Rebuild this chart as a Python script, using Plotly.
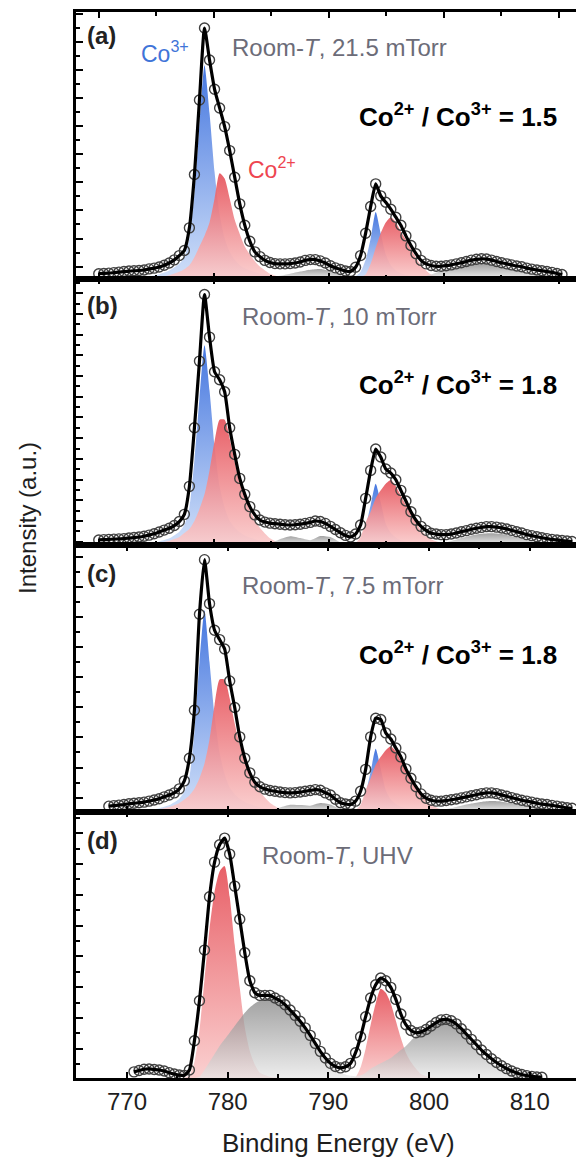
import plotly.graph_objects as go

# ---------------- data (intensity in a.u., 0-100 per panel) ----------------
energy = [767.2, 767.7, 768.2, 768.7, 769.2, 769.7, 770.2, 770.7, 771.2, 771.7,
          772.2, 772.7, 773.2, 773.7, 774.2, 774.7, 775.2, 775.7, 776.2, 776.7,
          777.2, 777.7, 778.2, 778.7, 779.2, 779.7, 780.2, 780.7, 781.2, 781.7,
          782.2, 782.7, 783.2, 783.7, 784.2, 784.7, 785.2, 785.7, 786.2, 786.7,
          787.2, 787.7, 788.2, 788.7, 789.2, 789.7, 790.2, 790.7, 791.2, 791.7,
          792.2, 792.7, 793.2, 793.7, 794.2, 794.7, 795.2, 795.7, 796.2, 796.7,
          797.2, 797.7, 798.2, 798.7, 799.2, 799.7, 800.2, 800.7, 801.2, 801.7,
          802.2, 802.7, 803.2, 803.7, 804.2, 804.7, 805.2, 805.7, 806.2, 806.7,
          807.2, 807.7, 808.2, 808.7, 809.2, 809.7, 810.2, 810.7, 811.2, 811.7,
          812.2, 812.7, 813.2, 813.7, 814.2]

data_a = [1.8, 1.9, 2.0, 2.2, 2.4, 2.6, 2.8, 2.9, 3.0, 3.2,
          3.6, 3.9, 4.3, 5.0, 5.8, 7.0, 8.6, 10.5, 19, 39,
          67, 94, 82, 71, 64, 57, 48, 38, 28, 20,
          14, 10, 8.2, 6.8, 6.0, 5.6, 5.5, 5.5, 5.6, 5.8,
          6.2, 6.8, 7.1, 7.1, 6.6, 5.8, 4.8, 4.0, 3.4, 2.8,
          2.6, 4.2, 8.6, 17, 27, 35.5, 31, 28.6, 26, 23,
          20, 16, 12.4, 9.3, 6.8, 5.5, 4.9, 4.6, 4.6, 4.8,
          5.1, 5.5, 5.9, 6.4, 6.9, 7.2, 7.4, 7.3, 6.9, 6.4,
          5.9, 5.5, 5.1, 4.7, 4.4, 3.9, 3.5, 3.2, 2.9, 2.6,
          2.3, 1.9, 1.5, None, None]

data_b = [1.9, 2.0, 2.1, 2.2, 2.3, 2.4, 2.6, 2.8, 3.0, 3.3,
          3.7, 4.2, 4.9, 5.6, 6.3, 7.3, 8.8, 11.5, 22, 44,
          69, 94, 78, 65, 62, 57.5, 44, 34, 25, 19,
          14.4, 11.3, 9.4, 8.6, 8.2, 8.0, 7.8, 7.6, 7.5, 7.6,
          7.8, 8.1, 8.5, 9.0, 8.8, 8.1, 7.0, 5.8, 4.6, 3.6,
          3.0, 4.1, 7.5, 17.5, 28, 36, 33, 28.5, 27, 24.5,
          20.5, 16.5, 12.5, 9.3, 7.0, 5.5, 4.4, 4.1, 3.9, 3.9,
          4.1, 4.5, 5.0, 5.4, 5.9, 6.3, 6.6, 6.9, 6.9, 6.7,
          6.4, 6.0, 5.5, 5.0, 4.5, 3.9, 3.5, 3.1, 2.7, 2.4,
          2.1, 1.9, 1.7, 1.5, 1.3]

data_c = [None, None, 2.0, 2.2, 2.4, 2.6, 2.9, 3.1, 3.3, 3.5,
          3.9, 4.3, 4.8, 5.5, 6.2, 7.0, 8.5, 11.5, 20, 38,
          74, 94.5, 78, 68, 64.5, 61, 49, 39, 28, 20,
          14.5, 11, 9.3, 8.4, 7.9, 7.6, 7.3, 7.1, 7.0, 7.1,
          7.3, 7.6, 7.9, 8.2, 8.0, 7.0, 6.2, 4.6, 3.3, 2.8,
          2.6, 3.9, 7.6, 15.8, 28, 35, 34.5, 29.5, 27.2, 23.8,
          20.5, 16, 12.5, 9.3, 6.6, 5.0, 4.2, 3.9, 3.9, 4.1,
          4.4, 4.7, 5.1, 5.5, 5.9, 6.3, 6.7, 7.0, 7.0, 6.7,
          6.2, 5.7, 5.2, 4.7, 4.2, 3.9, 3.5, 3.1, 2.8, 2.6,
          2.3, 2.0, 1.7, 1.4, 1.2]

data_d = [None, None, None, None, None, None, None, 2.3, 2.8, 3.3,
          3.4, 3.2, 3.0, 2.6, 2.0, 1.5, 1.1, 1.0, 3.0, 14,
          29, 48, 68, 81, 87.5, 90, 84, 72, 59.6, 47,
          36.5, 32, 31, 31, 31, 30, 29, 27.5, 25.5, 23.5,
          21.3, 18.8, 16, 13, 10, 7.5, 5.5, 4.3, 3.8, 4.2,
          5.5, 9.5, 15.5, 23, 30, 35, 37.5, 36.5, 34, 29.5,
          24, 20, 17.8, 17, 17.3, 18.2, 19.5, 20.8, 21.8, 22,
          21.5, 20.3, 18.5, 16.5, 14.5, 12.5, 10.5, 8.8, 7.2, 5.8,
          4.6, 3.5, 2.6, 1.9, 1.3, 0.9, 0.6, 0.4, 0.3, None,
          None, None, None, None, None]

# fitted components (Co3+, Co2+, satellites)
comp_energy = [770.2, 771.2, 772.2, 773.2, 774.2, 775.2,
               775.7, 776.2, 776.7, 777.2, 777.7, 778.2, 778.7, 779.2, 779.7, 780.2,
               780.7, 781.2, 781.7, 782.2, 782.7,
               783.2, 784.2, 785.2, 786.2, 787.2, 788.2, 789.2, 790.2, 791.2, 792.2,
               792.7, 793.2, 793.7, 794.2, 794.7, 795.2, 795.7, 796.2, 796.7, 797.2,
               797.7, 798.2,
               799.2, 800.2, 801.2, 802.2, 803.2, 804.2, 805.2, 806.2, 807.2, 808.2,
               809.2, 810.2, 811.2, 812.2, 813.2]

co3_a = [0, 0.3, 0.8, 1.6, 3.0, 5.5,
         8, 15, 32, 58, 80, 62, 40, 24, 15, 10, 7, 5, 3.8, 3, 2.4,
         1.8, 1, 0.5, 0, 0, 0, 0, 0, 0, 0,
         0.8, 2.5, 7, 15, 25, 17, 9, 5, 3, 2, 1.3, 0.9,
         0.4, 0, 0, 0, 0, 0, 0, 0, 0, 0, 0, 0, 0, 0, 0]
co2_a = [0, 0.1, 0.3, 0.6, 1.2, 2.5,
         3.5, 5, 8, 12, 16, 21, 30, 39.5, 37.5, 30, 22, 16.7, 12, 9, 6.5,
         4.5, 1.8, 0.6, 0.2, 0, 0, 0, 0, 0, 0,
         0.2, 0.5, 1.5, 5.5, 11.5, 17, 21, 23, 21, 17.5, 14.5, 11,
         5, 1.5, 0.5, 0, 0, 0, 0, 0, 0, 0, 0, 0, 0, 0, 0]
sat_a = [0, 0, 0, 0, 0, 0,
         0, 0, 0, 0, 0, 0, 0, 0, 0, 0, 0, 0, 0, 0, 0,
         0, 0.3, 1.0, 1.8, 2.6, 3.3, 3.6, 2.8, 1.2, 0.4,
         0.2, 0, 0, 0, 0, 0, 0, 0, 0, 0, 0, 0,
         0.5, 1.5, 2.8, 4.0, 4.9, 5.4, 5.5, 5.2, 4.5, 3.6, 2.7, 1.9, 1.2, 0.6, 0.2]

co3_b = [0, 0.2, 0.6, 1.3, 2.5, 5,
         7.5, 14, 32, 55, 75, 58, 37, 22, 14, 9, 6.5, 4.8, 3.6, 2.8, 2.2,
         1.6, 0.9, 0.4, 0, 0, 0, 0, 0, 0, 0,
         0.5, 2, 7, 15, 23, 16, 8, 4.5, 2.8, 1.8, 1.2, 0.8,
         0.3, 0, 0, 0, 0, 0, 0, 0, 0, 0, 0, 0, 0, 0, 0]
co2_b = [0, 0.2, 0.4, 0.8, 1.6, 3,
         4.5, 6, 9, 13.5, 19, 28, 39, 47, 47, 40, 31, 23, 17.5, 13, 9.5,
         6.5, 2.5, 0.6, 0.1, 0, 0, 0, 0, 0, 0,
         0.7, 3, 8.5, 12.5, 17.5, 20.5, 23, 24.4, 22, 18.5, 15, 11.5,
         5.5, 2.2, 0.9, 0.3, 0, 0, 0, 0, 0, 0, 0, 0, 0, 0, 0]
sat_b = [0, 0, 0, 0, 0, 0,
         0, 0, 0, 0, 0, 0, 0, 0, 0, 0, 0, 0, 0, 0, 0,
         0, 0.6, 2.2, 3.3, 2.6, 1.8, 3.4, 3.0, 1.0, 0.2,
         0, 0, 0, 0, 0, 0, 0, 0, 0, 0, 0, 0,
         0, 0, 0.5, 1.5, 2.6, 3.6, 4.2, 4.4, 4.1, 3.3, 2.3, 1.3, 0.6, 0.2, 0]

co3_c = [0, 0.2, 0.5, 1.2, 2.4, 4.8,
         7.5, 13, 30, 56, 75.5, 56, 36, 22, 14, 9, 6.5, 4.8, 3.6, 2.8, 2.2,
         1.6, 0.9, 0.4, 0, 0, 0, 0, 0, 0, 0,
         0.5, 2, 7, 15, 23.5, 16, 8, 4.5, 2.8, 1.8, 1.2, 0.8,
         0.3, 0, 0, 0, 0, 0, 0, 0, 0, 0, 0, 0, 0, 0, 0]
co2_c = [0, 0.2, 0.4, 0.9, 1.7, 3.2,
         4.5, 6, 8.5, 12.5, 18, 27, 40, 49.5, 49.5, 42.5, 33, 25, 19, 14.5, 11,
         7.5, 3.3, 1.0, 0.2, 0, 0, 0, 0, 0, 0,
         0.5, 2.5, 8, 12.5, 17.5, 20.5, 23, 24.5, 22.5, 19, 15.5, 12,
         6, 2.5, 0.8, 0.2, 0, 0, 0, 0, 0, 0, 0, 0, 0, 0, 0]
sat_c = [0, 0, 0, 0, 0, 0,
         0, 0, 0, 0, 0, 0, 0, 0, 0, 0, 0, 0, 0, 0, 0,
         0, 0.5, 1.5, 2.5, 2.4, 2.2, 3.2, 2.6, 0.9, 0.2,
         0, 0, 0, 0, 0, 0, 0, 0, 0, 0, 0, 0,
         0, 0, 0.5, 1.3, 2.2, 3.0, 3.6, 3.9, 3.7, 3.1, 2.3, 1.5, 0.8, 0.3, 0]

co2_d = [0, 0, 0, 0, 0, 0,
         0, 1, 6, 18, 37, 56, 70, 77.5, 79.5, 68, 50, 34, 19, 10, 5,
         2, 0.5, 0, 0, 0, 0, 0, 0, 0, 0,
         0.3, 4, 11, 20, 28, 33.5, 32, 28, 21.5, 15, 9.5, 6,
         1.5, 0.2, 0, 0, 0, 0, 0, 0, 0, 0, 0, 0, 0, 0, 0]
sat_d = [0, 0, 0, 0, 0, 0,
         0, 0, 0, 0.5, 3, 6, 9, 12, 14.5, 17, 19.5, 22, 24.5, 26.5, 28,
         29, 30, 28, 25, 21, 15, 9, 4.5, 2, 0.8,
         0.7, 1, 2, 3.5, 4.5, 5.5, 6.5, 7.5, 9, 10.5, 12, 14,
         17.5, 20, 21.5, 21, 18, 13, 8.5, 5.5, 3.5, 2, 1, 0.5, 0.2, 0, 0]

panel_labels = ["(a)", "(b)", "(c)", "(d)"]
conditions = ["Room-<i>T</i>, 21.5 mTorr", "Room-<i>T</i>, 10 mTorr",
              "Room-<i>T</i>, 7.5 mTorr", "Room-<i>T</i>, UHV"]
ratios = ["1.5", "1.8", "1.8", None]
x_tick_labels = [770, 780, 790, 800, 810]

# ---------------- styling ----------------
FONT = "Liberation Sans, Arial, Helvetica, sans-serif"
BLUE = [[0, "rgba(206,222,248,0.95)"], [1, "rgba(60,112,222,0.95)"]]
RED = [[0, "rgba(250,204,204,0.92)"], [1, "rgba(230,82,90,0.92)"]]
GRAY = [[0, "rgba(230,230,230,0.72)"], [1, "rgba(125,125,125,0.72)"]]

panels = [
    dict(data=data_a, co3=co3_a, co2=co2_a, sat=sat_a),
    dict(data=data_b, co3=co3_b, co2=co2_b, sat=sat_b),
    dict(data=data_c, co3=co3_c, co2=co2_c, sat=sat_c),
    dict(data=data_d, co3=None, co2=co2_d, sat=sat_d),
]
split = comp_energy.index(792.2)

fig = go.Figure()
for i, p in enumerate(panels):
    xa = "x" if i == 0 else f"x{i + 1}"
    ya = "y" if i == 0 else f"y{i + 1}"
    for key, cs in (("co3", BLUE), ("co2", RED), ("sat", GRAY)):
        vals = p[key]
        if vals is None:
            continue
        for lo, hi in ((0, split + 1), (split, len(comp_energy))):
            ys = vals[lo:hi]
            if max(ys) <= 0:
                continue
            fig.add_trace(go.Scatter(
                x=comp_energy[lo:hi], y=ys, mode="lines",
                line=dict(width=0, shape="spline", smoothing=0.6),
                fill="tozeroy", fillgradient=dict(type="vertical", colorscale=cs),
                xaxis=xa, yaxis=ya, hoverinfo="skip", showlegend=False))
    fig.add_trace(go.Scatter(
        x=energy, y=p["data"], mode="markers",
        marker=dict(symbol="circle-open", size=10, color="#404040", line=dict(width=1.4)),
        xaxis=xa, yaxis=ya, showlegend=False))
    fig.add_trace(go.Scatter(
        x=energy, y=p["data"], mode="lines",
        line=dict(color="black", width=3.2, shape="spline", smoothing=0.5),
        xaxis=xa, yaxis=ya, showlegend=False))

XR = [764.94, 814.59]
domains = [[0.75, 1.0], [0.5, 0.75], [0.25, 0.5], [0.0, 0.25]]
ytick = [(4.45, 10.55), (1.23, 7.77), (5.2, 11.3), (10.94, 11.56)]

layout = dict(width=576, height=1158, margin=dict(l=76, r=0, t=12, b=80),
              plot_bgcolor="white", paper_bgcolor="white", showlegend=False,
              font=dict(family=FONT, size=24, color="#1e1e1e"))

for i in range(4):
    sfx = "" if i == 0 else str(i + 1)
    if i < 2:
        t0, dt = 767.22, 11.42
    else:
        t0, dt = 770, 10
    xaxis = dict(range=XR, anchor="y" + sfx, domain=[0, 1],
                 tick0=t0, dtick=dt, ticks="inside", ticklen=6, tickwidth=2,
                 minor=dict(tick0=t0, dtick=dt / 2, ticks="inside", ticklen=4, tickwidth=1.5,
                            tickcolor="black"),
                 tickcolor="black", mirror="ticks", showline=True, linewidth=2.5,
                 linecolor="black", showgrid=False, zeroline=False,
                 showticklabels=(i == 3),
                 tickfont=dict(family=FONT, size=24, color="#1e1e1e"))
    if i == 3:
        xaxis.update(tickvals=x_tick_labels, ticktext=[str(v) for v in x_tick_labels])
        xaxis.pop("tick0"); xaxis.pop("dtick")
    layout["xaxis" + sfx] = xaxis
    y0, ydt = ytick[i]
    layout["yaxis" + sfx] = dict(range=[0, 100], domain=domains[i], anchor="x" + sfx,
                                 tick0=y0, dtick=ydt, ticks="inside", ticklen=7, tickwidth=2,
                                 tickcolor="black",
                                 minor=dict(tick0=y0, dtick=ydt / 2, ticks="inside", ticklen=4,
                                            tickwidth=2, tickcolor="black"),
                                 showline=True, linewidth=2.5, linecolor="black",
                                 showgrid=False, zeroline=False, showticklabels=False)
    # right-hand tick marks (no spine)
    layout[f"yaxis{i + 5}"] = dict(range=[0, 100], overlaying="y" + sfx, side="right",
                                   anchor="x" + sfx, tick0=y0, dtick=ydt, ticks="inside",
                                   ticklen=3, tickwidth=2.5, tickcolor="black",
                                   showline=False, showgrid=False, zeroline=False,
                                   showticklabels=False)

fig.update_layout(**layout)


def px_x(X):
    return (X - 76) / 500.0


def px_y(Y):
    return (1078 - Y) / 1066.0


ann = []
lab_y = [35, 305, 573, 840]
cond_pos = [(230, 47), (240, 316), (240, 585), (260, 855)]
ratio_y = [116, 383, 653]
for i in range(4):
    ann.append(dict(x=px_x(85), y=px_y(lab_y[i]), xref="paper", yref="paper",
                    text=f"<b>{panel_labels[i]}</b>", showarrow=False, xanchor="left",
                    yanchor="middle", font=dict(family=FONT, size=24, color="#222222")))
    cx, cy = cond_pos[i]
    ann.append(dict(x=px_x(cx), y=px_y(cy), xref="paper", yref="paper",
                    text=conditions[i], showarrow=False, xanchor="left", yanchor="middle",
                    font=dict(family=FONT, size=24, color="#6c6c78")))
    if ratios[i]:
        ann.append(dict(x=px_x(559), y=px_y(ratio_y[i]), xref="paper", yref="paper",
                        text=f"<b>Co<sup>2+</sup> / Co<sup>3+</sup> = {ratios[i]}</b>",
                        showarrow=False, xanchor="right", yanchor="middle",
                        font=dict(family=FONT, size=26, color="black")))

ann.append(dict(x=px_x(139), y=px_y(52), xref="paper", yref="paper",
                text="Co<sup>3+</sup>", showarrow=False, xanchor="left", yanchor="middle",
                font=dict(family=FONT, size=23, color="#3f74d8")))
ann.append(dict(x=px_x(246), y=px_y(168), xref="paper", yref="paper",
                text="Co<sup>2+</sup>", showarrow=False, xanchor="left", yanchor="middle",
                font=dict(family=FONT, size=23, color="#ee4550")))
ann.append(dict(x=px_x(338), y=px_y(1143), xref="paper", yref="paper",
                text="Binding Energy (eV)", showarrow=False, xanchor="center",
                yanchor="middle", font=dict(family=FONT, size=26, color="#1e1e1e")))
ann.append(dict(x=px_x(27), y=px_y(518), xref="paper", yref="paper",
                text="Intensity (a.u.)", textangle=-90, showarrow=False,
                xanchor="center", yanchor="middle",
                font=dict(family=FONT, size=24, color="#1e1e1e")))
fig.update_layout(annotations=ann)

fig.write_html("out.html")
